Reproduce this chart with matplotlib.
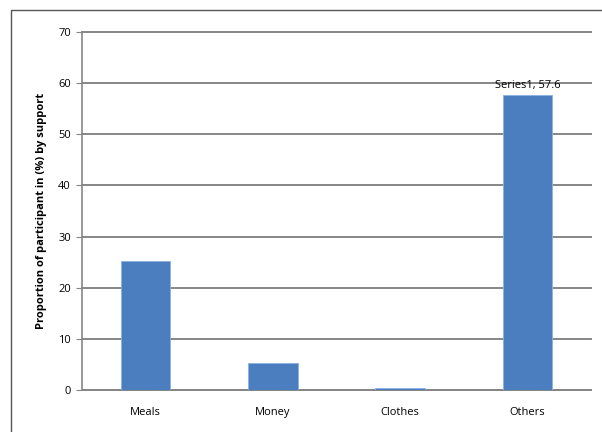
import matplotlib.pyplot as plt
from matplotlib.patches import Rectangle

# data
categories = ['Meals', 'Money', 'Clothes', 'Others']
values = [25.3, 5.2, 0.4, 57.6]
yticks = [0, 10, 20, 30, 40, 50, 60, 70]

plt.rcParams['font.family'] = ['Open Sans', 'DejaVu Sans']

fig = plt.figure(figsize=(6.02, 4.32), dpi=100)
# outer chart border
fig.patches.append(Rectangle((11 / 602, -0.01), 0.99, 1 - 10 / 432 + 0.01,
                             transform=fig.transFigure, fill=False,
                             edgecolor='#555555', linewidth=1.0))

ax = fig.add_axes([82 / 602, 1 - 390 / 432, (591 - 82) / 602, (390 - 32) / 432])

x = range(len(categories))
ax.bar(x, values, width=0.39, color='#4a7ebf', edgecolor='#8db3e2', linewidth=0.6, zorder=3)

ax.set_xlim(-0.5, 3.5)
ax.set_ylim(0, 70)
ax.set_yticks(yticks)
ax.set_xticks(list(x))
ax.set_xticklabels(categories, fontsize=8)
ax.tick_params(axis='y', labelsize=8, length=4, color='#868686', pad=4)
ax.tick_params(axis='x', length=0, pad=12)

ax.yaxis.grid(True, color='#868686', linewidth=1.4, zorder=0)
for gl in ax.get_ygridlines():
    gl.set_clip_on(False)
for s in ['top', 'right']:
    ax.spines[s].set_visible(False)
ax.spines['left'].set_color('#868686')
ax.spines['bottom'].set_color('#868686')
ax.spines['left'].set_linewidth(1.2)
ax.spines['bottom'].set_linewidth(1.4)

ax.set_ylabel('Proportion of participant in (%) by support', fontsize=8, fontweight='bold', labelpad=8)

ax.annotate('Series1, 57.6', xy=(3, values[3]), xytext=(0, 3.5), textcoords='offset points',
            ha='center', va='bottom', fontsize=8, zorder=4)

fig.savefig('out.png', dpi=100)
